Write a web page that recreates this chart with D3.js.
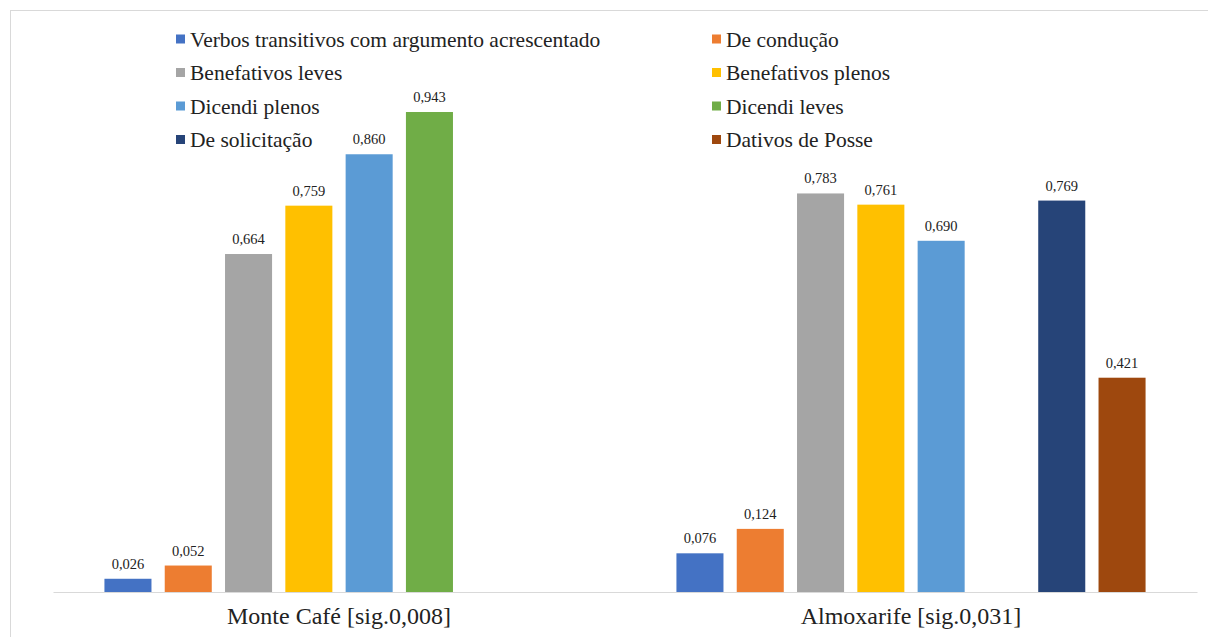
<!DOCTYPE html>
<html>
<head>
<meta charset="utf-8">
<script src="https://cdn.jsdelivr.net/npm/d3@7"></script>
<style>
  html, body { margin: 0; padding: 0; background: #fff; }
  svg { display: block; }
  svg text { font-family: "Liberation Serif", "DejaVu Serif", serif; }
</style>
</head>
<body>
<svg id="chart" width="1208" height="637"></svg>
<script>
// Categories (localities) and the eight verb classes
const categories = ["Monte Café [sig.0,008]", "Almoxarife [sig.0,031]"];
const series = [
  "Verbos transitivos com argumento acrescentado",
  "De condução",
  "Benefativos leves",
  "Benefativos plenos",
  "Dicendi plenos",
  "Dicendi leves",
  "De solicitação",
  "Dativos de Posse"
];
const colors = ["#4472C4", "#ED7D31", "#A5A5A5", "#FFC000", "#5B9BD5", "#70AD47", "#264478", "#9E480E"];

// Probabilities per class (null = class not present in that locality)
const monteCafe  = [0.026, 0.052, 0.664, 0.759, 0.860, 0.943, null, null];
const almoxarife = [0.076, 0.124, 0.783, 0.761, 0.690, null, 0.769, 0.421];
const values = [monteCafe, almoxarife];

const FONT = "Liberation Serif, DejaVu Serif, serif";
const svg = d3.select("#chart").attr("font-family", FONT);
const W = 1208, H = 637;

// Chart frame
svg.append("rect")
  .attr("x", 10.5).attr("y", 10.5)
  .attr("width", W + 10).attr("height", H + 10)
  .attr("fill", "#fff")
  .attr("stroke", "#d9d9d9").attr("stroke-width", 1);

const plot = { left: 53, right: 1197, top: 83, bottom: 592 };

const x0 = d3.scaleBand()
  .domain(categories)
  .range([plot.left, plot.right])
  .padding(0);

const x1 = d3.scaleBand()
  .domain(series)
  .range([0, x0.bandwidth()])
  .paddingInner(0.22)
  .paddingOuter(0.853);

const y = d3.scaleLinear()
  .domain([0, 1])
  .range([plot.bottom, plot.top]);

// Bars and value labels
categories.forEach((cat, ci) => {
  const data = series.map((s, si) => ({ s, si, v: values[ci][si] }))
    .filter(d => d.v !== null);
  const g = svg.append("g").attr("transform", `translate(${x0(cat)},0)`);
  g.selectAll("rect")
    .data(data)
    .join("rect")
    .attr("x", d => x1(d.s))
    .attr("y", d => y(d.v))
    .attr("width", x1.bandwidth())
    .attr("height", d => y(0) - y(d.v))
    .attr("fill", d => colors[d.si]);
  g.selectAll("text")
    .data(data)
    .join("text")
    .attr("x", d => x1(d.s) + x1.bandwidth() / 2)
    .attr("y", d => y(d.v) - 10)
    .attr("text-anchor", "middle")
    .attr("font-family", FONT)
    .attr("font-size", 14.5)
    .attr("fill", "#222")
    .text(d => d3.format(".3f")(d.v).replace(".", ","));
});

// Category axis
const xAxis = svg.append("g")
  .attr("transform", `translate(0,${plot.bottom})`)
  .call(d3.axisBottom(x0).tickSize(0).tickPadding(15));
xAxis.attr("font-family", FONT);
xAxis.select(".domain").attr("stroke", "#d9d9d9").attr("stroke-width", 1.2);
xAxis.selectAll("text")
  .attr("font-family", FONT)
  .attr("font-size", 24)
  .attr("fill", "#222");

// Legend: two columns, four rows
const legendCols = [176, 712];
const legendRows = [39, 72.5, 106, 139.5];
const legend = svg.append("g");
series.forEach((s, i) => {
  const lx = legendCols[i % 2];
  const ly = legendRows[Math.floor(i / 2)];
  legend.append("rect")
    .attr("x", lx).attr("y", ly - 4.5)
    .attr("width", 9).attr("height", 9)
    .attr("fill", colors[i]);
  legend.append("text")
    .attr("x", lx + 14).attr("y", ly)
    .attr("dy", "0.35em")
    .attr("font-family", FONT)
    .attr("font-size", 21.5)
    .attr("fill", "#222")
    .text(s);
});
</script>
</body>
</html>
